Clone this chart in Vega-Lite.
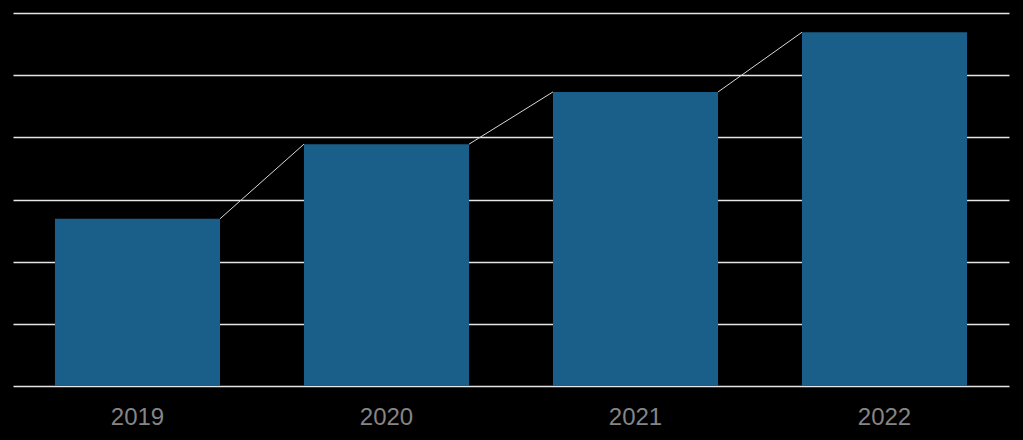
{
  "$schema": "https://vega.github.io/schema/vega-lite/v6.json",
  "width": 996,
  "height": 373,
  "autosize": "none",
  "padding": {"left": 13, "top": 13, "right": 14, "bottom": 54},
  "background": "#000000",
  "config": {
    "view": {"stroke": null},
    "axisY": {
      "title": null,
      "labels": false,
      "labelOverlap": false,
      "ticks": false,
      "domain": false,
      "values": [0, 1, 2, 3, 4, 5, 6],
      "grid": true,
      "gridColor": "#e6e6e6",
      "gridWidth": 1.5,
      "zindex": 0
    }
  },
  "datasets": {
    "bars": [
      {"year": "2019", "value": 2.69},
      {"year": "2020", "value": 3.89},
      {"year": "2021", "value": 4.73},
      {"year": "2022", "value": 5.69}
    ],
    "links": [
      {"year": "2019", "next": "2020", "value": 2.69, "value2": 3.89},
      {"year": "2020", "next": "2021", "value": 3.89, "value2": 4.73},
      {"year": "2021", "next": "2022", "value": 4.73, "value2": 5.69}
    ]
  },
  "encoding": {
    "x": {
      "field": "year",
      "type": "ordinal",
      "scale": {"domain": ["2019", "2020", "2021", "2022"], "paddingInner": 0.337, "paddingOuter": 0.1685},
      "axis": {
        "title": null,
        "labelAngle": 0,
        "ticks": false,
        "domain": false,
        "labelColor": "#858585",
        "labelFont": "Liberation Sans",
        "labelFontSize": 24,
        "labelPadding": 19
      }
    }
  },
  "layer": [
    {
      "data": {"name": "bars"},
      "mark": {"type": "bar", "color": "#1a5e8a"},
      "encoding": {
        "y": {
          "field": "value",
          "type": "quantitative",
          "scale": {"domain": [0, 6], "nice": false},
          "axis": {"values": [0, 1, 2, 3, 4, 5, 6]}
        }
      }
    },
    {
      "data": {"name": "links"},
      "mark": {"type": "rule", "color": "#d9d9d9", "strokeWidth": 1},
      "encoding": {
        "x": {"field": "year", "type": "ordinal", "bandPosition": 1},
        "x2": {"field": "next", "bandPosition": 0},
        "y": {"field": "value", "type": "quantitative", "axis": {"values": [0, 1, 2, 3, 4, 5, 6]}},
        "y2": {"field": "value2"}
      }
    }
  ]
}
